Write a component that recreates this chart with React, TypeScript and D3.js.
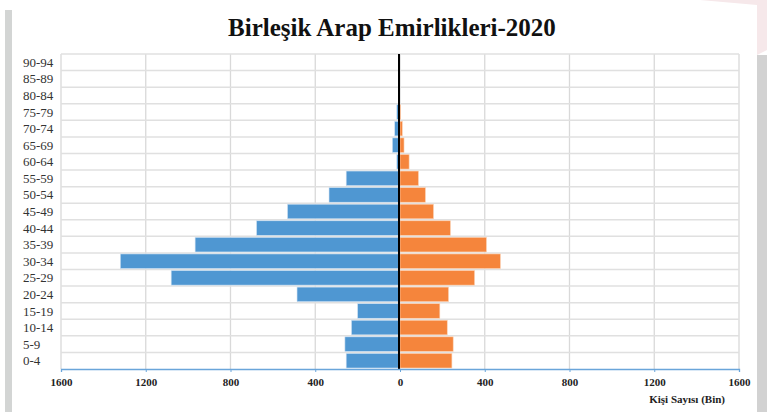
import React, { useEffect, useRef } from 'react';
import * as d3 from 'd3';

// age groups, bottom to top
const ageGroups = ['0-4', '5-9', '10-14', '15-19', '20-24', '25-29', '30-34', '35-39', '40-44', '45-49', '50-54', '55-59', '60-64', '65-69', '70-74', '75-79', '80-84', '85-89', '90-94'];
// thousands of people
const maleValues = [254, 260, 229, 200, 486, 1080, 1320, 967, 677, 531, 335, 254, 15, 36, 25, 15, 0, 0, 0];
const femaleValues = [245, 251, 223, 188, 229, 352, 474, 408, 238, 158, 120, 87, 43, 19, 11, 3, 0, 0, 0];
const tickValues = [-1600, -1200, -800, -400, 0, 400, 800, 1200, 1600];

const titleText = 'Birleşik Arap Emirlikleri-2020';
const axisTitle = 'Kişi Sayısı (Bin)';

const App = () => {
  const ref = useRef<SVGSVGElement | null>(null);

  useEffect(() => {
    drawChart();
  }, []);

  const drawChart = () => {
    const width = 767, height = 412;
    const svg = d3.select(ref.current);
    svg.selectAll('*').remove();

    const serif = '"Liberation Serif", "DejaVu Serif", serif';

    // page decoration around the chart panel
    svg.append('rect').attr('x', 0).attr('y', 0).attr('width', width).attr('height', height).attr('fill', '#fff');
    svg.append('rect').attr('x', 5).attr('y', 10).attr('width', 7).attr('height', height - 10).attr('fill', '#d3d5d4');
    svg.append('rect').attr('x', 757).attr('y', 55).attr('width', 10).attr('height', height - 55).attr('fill', '#d2d2d2');
    svg.append('path').attr('d', 'M700,0 L767,0 L767,50 L757,55 L757,5 Z').attr('fill', '#f6e8ea');

    const x = d3.scaleLinear().domain([-1600, 1600]).range([61, 739]);
    const y = d3.scaleBand()
      .domain([...ageGroups].reverse())
      .range([54, 369])
      .paddingInner(0.12)
      .paddingOuter(0.06);

    const top = 54, bottom = 369;
    const step = y.step();

    // vertical gridlines
    svg.append('g')
      .selectAll('line')
      .data(tickValues)
      .join('line')
      .attr('x1', d => x(d))
      .attr('x2', d => x(d))
      .attr('y1', top)
      .attr('y2', bottom)
      .attr('stroke', '#d9d9d9')
      .attr('stroke-width', 1.3);

    // horizontal gridlines between rows
    svg.append('g')
      .selectAll('line')
      .data(d3.range(ageGroups.length))
      .join('line')
      .attr('x1', x(-1600))
      .attr('x2', x(1600))
      .attr('y1', i => top + i * step)
      .attr('y2', i => top + i * step)
      .attr('stroke', '#e0e0e0')
      .attr('stroke-width', 1.5);

    // left bars (blue)
    svg.append('g')
      .selectAll('rect')
      .data(ageGroups.map((g, i) => ({ group: g, value: maleValues[i] })))
      .join('rect')
      .attr('x', d => x(-d.value))
      .attr('y', d => y(d.group)!)
      .attr('width', d => x(0) - x(-d.value))
      .attr('height', y.bandwidth())
      .attr('fill', '#4f97d2')
      .attr('stroke', '#cfe1f2')
      .attr('stroke-width', 0.6);

    // right bars (orange)
    svg.append('g')
      .selectAll('rect')
      .data(ageGroups.map((g, i) => ({ group: g, value: femaleValues[i] })))
      .join('rect')
      .attr('x', x(0))
      .attr('y', d => y(d.group)!)
      .attr('width', d => x(d.value) - x(0))
      .attr('height', y.bandwidth())
      .attr('fill', '#f5853c')
      .attr('stroke', '#fbd3b6')
      .attr('stroke-width', 0.6);

    // zero line
    svg.append('line')
      .attr('x1', x(0) - 1).attr('x2', x(0) - 1)
      .attr('y1', top).attr('y2', bottom)
      .attr('stroke', '#000')
      .attr('stroke-width', 2);

    // x axis
    const axis = svg.append('g')
      .attr('transform', `translate(0, ${bottom})`)
      .call(d3.axisBottom(x).tickValues(tickValues).tickSize(3).tickFormat(d => `${Math.abs(+d)}`));
    axis.select('.domain').attr('stroke', '#6aa5da').attr('stroke-width', 1.3);
    axis.selectAll('.tick line').attr('stroke', '#6aa5da');
    axis.selectAll('.tick text')
      .attr('y', 9)
      .style('font-family', serif)
      .style('font-size', '11px')
      .style('font-weight', 'bold')
      .attr('fill', '#222');

    // y labels
    svg.append('g')
      .selectAll('text')
      .data(ageGroups)
      .join('text')
      .attr('x', 23)
      .attr('y', d => y(d)! + y.bandwidth() / 2)
      .attr('dy', '0.35em')
      .style('font-family', serif)
      .style('font-size', '13px')
      .attr('fill', '#333')
      .text(d => d);

    // title
    svg.append('text')
      .attr('x', 392)
      .attr('y', 36)
      .attr('text-anchor', 'middle')
      .style('font-family', serif)
      .style('font-size', '25px')
      .style('font-weight', 'bold')
      .attr('fill', '#111')
      .text(titleText);

    // axis title
    svg.append('text')
      .attr('x', 725)
      .attr('y', 403)
      .attr('text-anchor', 'end')
      .style('font-family', serif)
      .style('font-size', '11px')
      .style('font-weight', 'bold')
      .attr('fill', '#222')
      .text(axisTitle);
  };

  return (
    <svg ref={ref} width={767} height={412} style={{ position: 'absolute', left: 0, top: 0 }} />
  );
};

export default App;
